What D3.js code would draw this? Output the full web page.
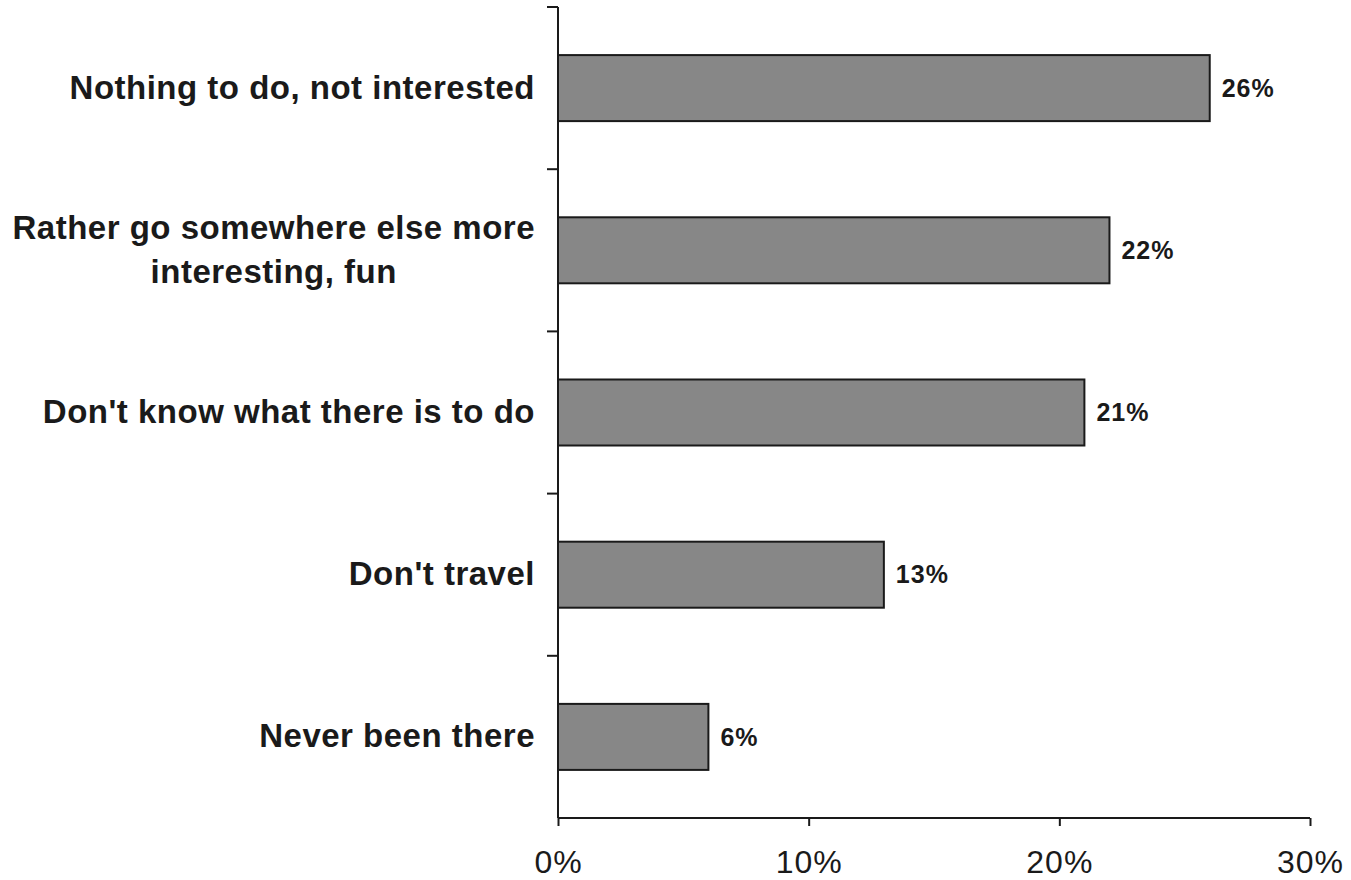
<!DOCTYPE html>
<html>
<head>
<meta charset="utf-8">
<script src="https://cdn.jsdelivr.net/npm/d3@7"></script>
<style>
  body { margin: 0; background: #fff; }
  svg { font-family: "Liberation Sans", Arial, sans-serif; }
</style>
</head>
<body>
<script>
const w = 1351;
const h = 880;

const categories = [
    ["Nothing to do, not interested"],
    ["Rather go somewhere else more", "interesting, fun"],
    ["Don't know what there is to do"],
    ["Don't travel"],
    ["Never been there"]
];
const values = [26, 22, 21, 13, 6];
const xTicks = [0, 10, 20, 30];

const plotLeft = 558, plotRight = 1310, plotTop = 7, plotBottom = 818;

const svg = d3.select('body').append('svg').attr('width', w).attr('height', h);

const x = d3.scaleLinear().domain([0, 30]).range([plotLeft, plotRight]);
const y = d3.scaleBand()
    .domain(d3.range(categories.length))
    .range([plotTop, plotBottom])
    .paddingInner(0.593)
    .paddingOuter(0.2965);

// bars
svg.selectAll('rect.bar')
    .data(values)
    .enter()
    .append('rect')
    .attr('class', 'bar')
    .attr('x', x(0))
    .attr('y', (d, i) => y(i))
    .attr('width', d => x(d) - x(0))
    .attr('height', y.bandwidth())
    .attr('fill', '#878787')
    .attr('stroke', '#1a1a1a')
    .attr('stroke-width', 2);

// value labels
svg.selectAll('text.val')
    .data(values)
    .enter()
    .append('text')
    .attr('class', 'val')
    .attr('x', d => x(d) + 12)
    .attr('y', (d, i) => y(i) + y.bandwidth() / 2)
    .attr('dy', '0.35em')
    .attr('font-size', 25)
    .attr('font-weight', 'bold')
    .attr('letter-spacing', 1)
    .attr('fill', '#1a1a1a')
    .text(d => d + '%');

// y axis, ticks sit on the band edges
const step = y.step();
const yEdges = d3.range(categories.length + 1).map(i => plotTop + i * step);
svg.append('line')
    .attr('x1', plotLeft).attr('x2', plotLeft)
    .attr('y1', plotTop).attr('y2', plotBottom)
    .attr('stroke', '#1a1a1a').attr('stroke-width', 2);
svg.selectAll('line.ytick')
    .data(yEdges.slice(0, -1))
    .enter()
    .append('line')
    .attr('class', 'ytick')
    .attr('x1', plotLeft - 11).attr('x2', plotLeft)
    .attr('y1', d => d).attr('y2', d => d)
    .attr('stroke', '#1a1a1a').attr('stroke-width', 2);

// x axis
const xAxis = d3.axisBottom(x)
    .tickValues(xTicks)
    .tickSize(8)
    .tickPadding(24)
    .tickFormat(d => d + '%');
const gx = svg.append('g')
    .attr('transform', `translate(0,${plotBottom})`)
    .call(xAxis);
gx.select('.domain').attr('stroke', '#1a1a1a').attr('stroke-width', 2)
    .attr('d', `M${plotLeft},0H${plotRight}`);
gx.selectAll('.tick line').attr('stroke', '#1a1a1a').attr('stroke-width', 2);
gx.selectAll('.tick text')
    .attr('font-size', 32)
    .attr('letter-spacing', 1)
    .attr('font-family', '"Liberation Sans", Arial, sans-serif')
    .attr('fill', '#1a1a1a');

// category labels
const labelRight = 535;
const lineH = 44;
categories.forEach((lines, i) => {
    const cy = y(i) + y.bandwidth() / 2;
    const t = svg.append('text')
        .attr('font-size', 33)
        .attr('font-weight', 'bold')
        .attr('letter-spacing', 0.5)
        .attr('fill', '#1a1a1a');
    const spans = lines.map((s, j) => t.append('tspan')
        .attr('y', cy - 1 + (j - (lines.length - 1) / 2) * lineH)
        .attr('dy', '0.35em')
        .text(s));
    if (lines.length === 1) {
        t.attr('text-anchor', 'end');
        spans[0].attr('x', labelRight);
    } else {
        const maxW = d3.max(spans, s => s.node().getComputedTextLength());
        t.attr('text-anchor', 'middle');
        spans.forEach(s => s.attr('x', labelRight - maxW / 2));
    }
});
</script>
</body>
</html>
